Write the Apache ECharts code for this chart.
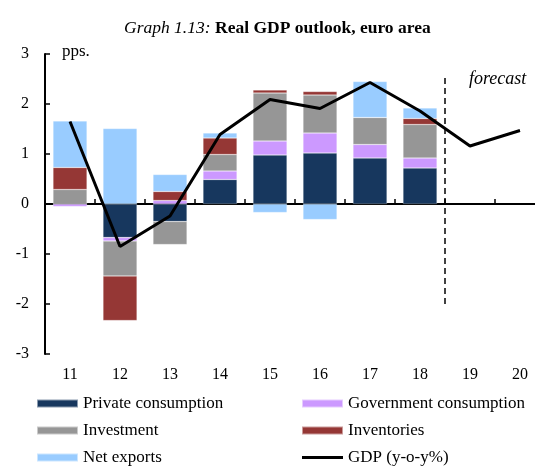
<!DOCTYPE html>
<html>
<head>
<meta charset="utf-8">
<script src="https://cdn.jsdelivr.net/npm/echarts@6/dist/echarts.min.js"></script>
<style>
  html, body { margin: 0; padding: 0; background: #fff; }
  #main { width: 535px; height: 466px; }
</style>
</head>
<body>
<div id="main"></div>
<script>
// years (20xx)
var years = ['11', '12', '13', '14', '15', '16', '17', '18', '19', '20'];

// contributions to GDP growth, pps.
var privateCons = [0.00, -0.67, -0.35, 0.49, 0.98, 1.02, 0.92, 0.72, null, null];
var govCons = [-0.05, -0.07, 0.07, 0.17, 0.28, 0.40, 0.27, 0.20, null, null];
var investment = [0.29, -0.70, -0.46, 0.33, 0.96, 0.76, 0.54, 0.67, null, null];
var inventories = [0.44, -0.89, 0.18, 0.33, 0.06, 0.07, 0.00, 0.12, null, null];
var netExports = [0.93, 1.51, 0.34, 0.10, -0.17, -0.31, 0.72, 0.21, null, null];
var gdp = [1.65, -0.85, -0.24, 1.39, 2.09, 1.91, 2.43, 1.86, 1.16, 1.47];

// forecast divider: boundary after the 8th category, from -2 to 2.6
var forecastLine = [[8, -2], [8, 2.6]];

var yTicks = [-3, 3, 1];

var serif = 'Liberation Serif';

var myChart = echarts.init(document.getElementById('main'));

function bar(name, data, color) {
  return {
    name: name,
    type: 'bar',
    stack: 'c',
    data: data,
    barCategoryGap: '32%',
    itemStyle: { color: color, borderColor: 'rgba(255,255,255,0.5)', borderWidth: 0.5 }
  };
}

function legendCol(left, items) {
  return {
    orient: 'vertical',
    left: left,
    top: 394,
    width: 320,
    height: 90,
    itemWidth: 41,
    itemHeight: 8,
    itemGap: 8,
    padding: 0,
    textStyle: { fontFamily: serif, fontSize: 17, color: '#000', lineHeight: 19 },
    data: items
  };
}

var option = {
  animation: false,
  textStyle: { fontFamily: serif, color: '#000' },
  title: {
    text: '{i|Graph 1.13:} {b|Real GDP outlook, euro area}',
    left: 119,
    top: 14,
    textStyle: {
      rich: {
        i: { fontFamily: serif, fontStyle: 'italic', fontWeight: 'normal', fontSize: 17.5, color: '#000' },
        b: { fontFamily: serif, fontWeight: 'bold', fontSize: 17.5, color: '#000' }
      }
    }
  },
  grid: { left: 45, top: 54, right: -10, bottom: 112, outerBoundsMode: 'none' },
  xAxis: [
    {
      type: 'category',
      data: years,
      position: 'bottom',
      axisLine: { onZero: true, lineStyle: { color: '#000', width: 2 } },
      axisTick: { show: true, inside: true, length: 5, lineStyle: { color: '#000', width: 1.5 } },
      axisLabel: { show: false },
      splitLine: { show: false }
    },
    {
      type: 'category',
      data: years,
      position: 'bottom',
      axisLine: { show: false, onZero: false },
      axisTick: { show: false },
      axisLabel: { margin: 13, fontSize: 16, fontFamily: serif, color: '#000' }
    },
    {
      type: 'value',
      min: 0,
      max: 10,
      show: false
    }
  ],
  yAxis: {
    type: 'value',
    min: yTicks[0],
    max: yTicks[1],
    interval: yTicks[2],
    axisLine: { show: true, lineStyle: { color: '#000', width: 2 } },
    axisTick: { show: true, inside: true, length: 5, lineStyle: { color: '#000', width: 1.5 } },
    axisLabel: { margin: 16, fontSize: 16, fontFamily: serif, color: '#000' },
    splitLine: { show: false }
  },
  legend: [
    legendCol(36, [
      { name: 'Private consumption', icon: 'rect' },
      { name: 'Investment', icon: 'rect' },
      { name: 'Net exports', icon: 'rect' }
    ]),
    legendCol(301, [
      { name: 'Government consumption', icon: 'rect' },
      { name: 'Inventories', icon: 'rect' },
      { name: 'GDP (y-o-y%)', icon: 'path://M0,0 H41 V3 H0 Z' }
    ])
  ],
  graphic: [
    {
      type: 'text',
      left: 62,
      top: 43,
      style: { text: 'pps.', fontFamily: serif, fontSize: 17, fill: '#000' }
    },
    {
      type: 'text',
      left: 469,
      top: 70,
      style: { text: 'forecast', fontFamily: serif, fontStyle: 'italic', fontSize: 18, fill: '#000' }
    }
  ],
  series: [
    bar('Private consumption', privateCons, '#17375E'),
    bar('Government consumption', govCons, '#CC99FF'),
    bar('Investment', investment, '#969696'),
    bar('Inventories', inventories, '#953735'),
    bar('Net exports', netExports, '#99CCFF'),
    {
      name: 'GDP (y-o-y%)',
      type: 'line',
      data: gdp,
      symbol: 'none',
      lineStyle: { color: '#000', width: 3 },
      itemStyle: { color: '#000' },
      z: 5
    },
    {
      name: 'forecast divider',
      type: 'line',
      xAxisIndex: 2,
      data: forecastLine,
      symbol: 'none',
      lineStyle: { color: '#000', width: 1.5, type: [6, 4] },
      z: 4
    }
  ]
};

myChart.setOption(option);
</script>
</body>
</html>
